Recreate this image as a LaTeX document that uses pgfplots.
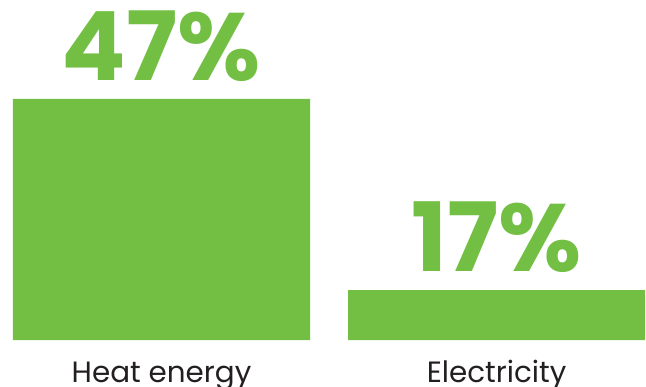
\documentclass[border=0pt]{standalone}
\usepackage{fontspec}
\setmainfont{Poppins}
\usepackage{pgfplots}
\pgfplotsset{compat=1.18}
\definecolor{bargreen}{HTML}{72BF44}
\definecolor{labelgray}{HTML}{231F20}
\begin{document}
\begin{tikzpicture}
\useasboundingbox (0,0) rectangle (646bp,387bp);
\begin{axis}[
  at={(0,47bp)}, anchor=south west,
  scale only axis, width=646bp, height=340bp,
  xmin=-0.482, xmax=1.446,
  ymin=9.147, ymax=62.55,
  axis x line=bottom, axis y line=none,
  axis line style={draw=none},
  ybar, bar width=297bp, bar shift=0pt,
  xtick={0,1}, xticklabels={Heat energy,Electricity},
  ytick=\empty,
  major tick length=0pt,
  xtick style={draw=none},
  xticklabel style={anchor=base, yshift=-42bp, font=\fontsize{29.5}{31}\selectfont, text=labelgray},
  /pgf/number format/assume math mode=true,
  nodes near coords={\pgfmathprintnumber{\pgfplotspointmeta}\%},
  every node near coord/.append style={anchor=base, inner sep=0pt, yshift=19bp,
    font=\fontsize{96}{96}\bfseries\selectfont, text=bargreen},
  clip=false,
]
\addplot[fill=bargreen, draw=none] coordinates {(0,47) (1,17)};
\end{axis}
\end{tikzpicture}
\end{document}
